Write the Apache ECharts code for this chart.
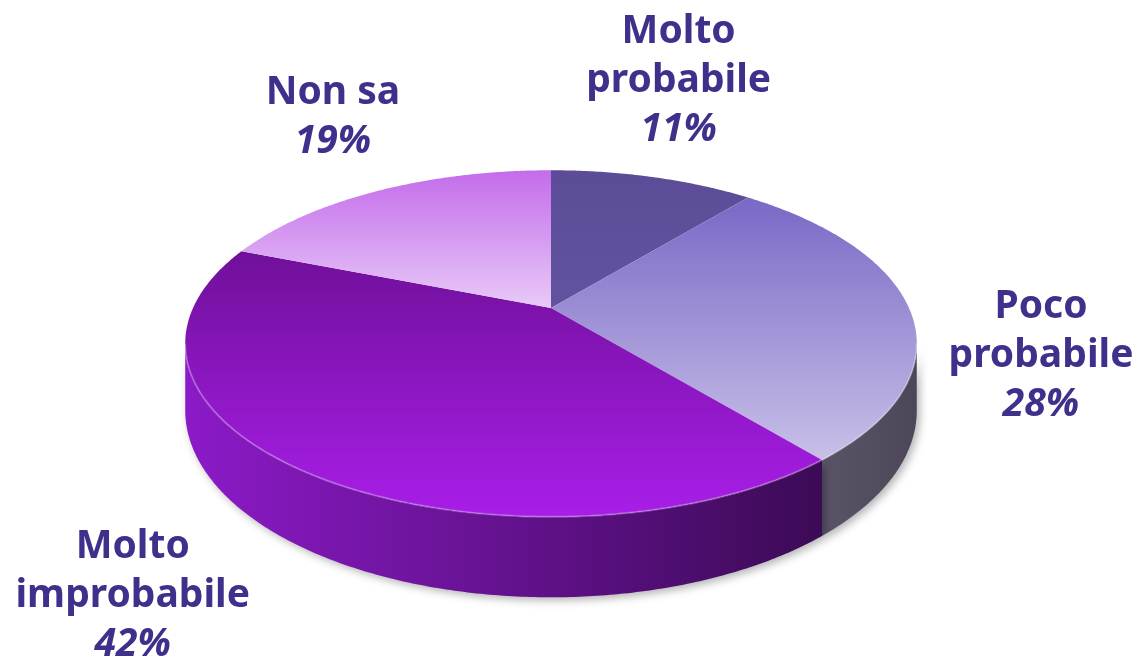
<!DOCTYPE html>
<html>
<head>
<meta charset="utf-8">
<script src="https://cdn.jsdelivr.net/npm/echarts@6/dist/echarts.min.js"></script>
<style>
  html, body { margin: 0; background: #fff; }
  #chart { width: 1140px; height: 661px; }
</style>
</head>
<body>
<div id="chart"></div>
<script>
// dati
const categories = ['Molto probabile', 'Poco probabile', 'Molto improbabile', 'Non sa']
const labelLines = [['Molto', 'probabile'], ['Poco', 'probabile'], ['Molto', 'improbabile'], ['Non sa']]
const values = [11, 28, 42, 19]

// colori: [alto, basso] della faccia, [sinistra, destra] del bordo
const topColors = [['#5c4c98', '#6253a0'], ['#7a68c6', '#c8c0e8'], ['#70109a', '#a81ee8'], ['#c46cea', '#e8caf8']]
const sideColors = [['#5e4f9a', '#4a3e7c'], ['#5a5468', '#4c4658'], ['#8c1ac8', '#3c0a56'], ['#b060d8', '#9040c0']]
// spostamento delle etichette rispetto al bordo (px)
const labelOffset = [[26, -96], [132, 48], [-166, 127], [-46, -73]]

// proiezione prospettica del disco
const cx = 551, cy = 308, k = 358, kb = 166, persp = 0.205, depth = 64
const project = (theta, r, down) => {
    const u = Math.sin(theta) * r
    const v = Math.cos(theta) * r
    const d = 1 + persp * v
    return [cx + k * u / d, cy - kb * v / d + down * depth / d]
}

const total = values.reduce((a, b) => a + b, 0)
const angles = []
let acc = 0
values.forEach(v => {
    angles.push([acc / total * Math.PI * 2, (acc + v) / total * Math.PI * 2])
    acc += v
})
// parte visibile del bordo esterno
const sideMin = Math.acos(-persp)
const sideMax = Math.PI * 2 - sideMin

const arc = (a0, a1, down) => {
    const pts = []
    const n = Math.max(6, Math.ceil((a1 - a0) / 0.01))
    for (let j = 0; j <= n; j++) pts.push(project(a0 + (a1 - a0) * j / n, 1, down))
    return pts
}

const labelFont = {
    fontFamily: '"Noto Sans", sans-serif',
    fontWeight: 'bold',
    fontSize: 39,
    lineHeight: 49,
    fill: '#40308c',
    align: 'center'
}

const chart = echarts.init(document.getElementById('chart'))

const option = {
    animation: false,
    series: [
        {
            // bordo laterale
            type: 'custom',
            coordinateSystem: 'none',
            z: 1,
            data: values,
            renderItem: (params, api) => {
                const i = params.dataIndex
                const a0 = Math.max(angles[i][0], sideMin)
                const a1 = Math.min(angles[i][1], sideMax)
                if (a1 <= a0) return null
                const pts = arc(a0, a1, 0).concat(arc(a0, a1, 1).reverse())
                return {
                    type: 'polygon',
                    shape: { points: pts },
                    style: {
                        fill: new echarts.graphic.LinearGradient(0, 0, 1, 0, [
                            { offset: 0, color: sideColors[i][0] },
                            { offset: 1, color: sideColors[i][1] }
                        ]),
                        shadowColor: 'rgba(0,0,0,0.3)',
                        shadowBlur: 8,
                        shadowOffsetX: 3,
                        shadowOffsetY: 3
                    }
                }
            }
        },
        {
            // faccia superiore + etichette
            type: 'custom',
            coordinateSystem: 'none',
            z: 2,
            data: values,
            renderItem: (params, api) => {
                const i = params.dataIndex
                const [a0, a1] = angles[i]
                const pts = [project(0, 0, 0)].concat(arc(a0, a1, 0))
                const mid = (a0 + a1) / 2
                const rim = project(mid, 1, 0)
                const children = [
                    {
                        type: 'polygon',
                        shape: { points: pts },
                        style: {
                            fill: new echarts.graphic.LinearGradient(0, 0, 0, 1, [
                                { offset: 0, color: topColors[i][0] },
                                { offset: 1, color: topColors[i][1] }
                            ])
                        }
                    }
                ]
                const fa0 = Math.max(a0, sideMin)
                const fa1 = Math.min(a1, sideMax)
                if (fa1 > fa0) {
                    children.push({
                        type: 'polyline',
                        shape: { points: arc(fa0, fa1, 0) },
                        style: { stroke: 'rgba(255,255,255,0.25)', lineWidth: 2, fill: null }
                    })
                }
                const name = labelLines[i].map(s => '{n|' + s + '}').join('\n')
                children.push({
                    type: 'text',
                    x: rim[0] + labelOffset[i][0],
                    y: rim[1] + labelOffset[i][1],
                    style: {
                        text: name + '\n{p|' + api.value(0) + '%}',
                        align: 'center',
                        verticalAlign: 'middle',
                        rich: {
                            n: labelFont,
                            p: Object.assign({}, labelFont, { fontStyle: 'italic' })
                        }
                    }
                })
                return { type: 'group', children }
            }
        }
    ]
}
chart.setOption(option)

window.addEventListener('resize', () => {
    chart && chart.resize()
})
</script>
</body>
</html>
